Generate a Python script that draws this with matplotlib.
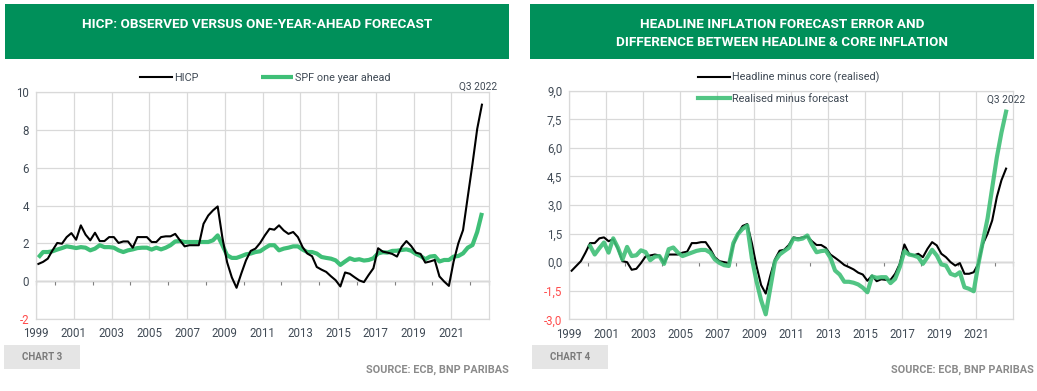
import numpy as np
import matplotlib.pyplot as plt
from matplotlib.patches import Rectangle

plt.rcParams['font.family'] = ['Roboto', 'DejaVu Sans']

W, H = 1037, 391
GREEN_HDR = '#00905a'
GREEN_LINE = '#3fbf77'
GRID = '#d9d9d9'
TXT = '#404a55'
NEG = '#ff4b4b'

# quarterly data, 1999 Q1 .. 2022 Q3
hicp = [0.91, 1.02, 1.19, 1.63, 2.02, 1.98, 2.33, 2.54, 2.19, 2.95, 2.46, 2.16,
        2.56, 2.12, 2.12, 2.33, 2.33, 2.02, 2.10, 2.10, 1.77, 2.33, 2.33, 2.33,
        2.07, 2.07, 2.33, 2.37, 2.37, 2.50, 2.16, 1.84, 1.90, 1.90, 1.90, 3.03,
        3.47, 3.74, 3.95, 2.30, 1.00, 0.20, -0.35, 0.40, 1.10, 1.60, 1.72, 2.02,
        2.42, 2.77, 2.72, 2.95, 2.68, 2.50, 2.60, 2.33, 1.80, 1.46, 1.32, 0.75,
        0.61, 0.49, 0.26, 0.05, -0.28, 0.46, 0.39, 0.21, 0.04, -0.05, 0.33, 0.68,
        1.74, 1.56, 1.51, 1.44, 1.30, 1.82, 2.12, 1.86, 1.51, 1.44, 0.98, 1.04,
        1.12, 0.25, -0.02, -0.25, 1.04, 2.00, 2.70, 4.46, 6.20, 8.05, 9.33]
spf = [1.25, 1.54, 1.54, 1.58, 1.67, 1.75, 1.84, 1.80, 1.75, 1.80, 1.77, 1.63,
       1.72, 1.90, 1.80, 1.80, 1.77, 1.63, 1.54, 1.63, 1.68, 1.75, 1.77, 1.77,
       1.67, 1.77, 1.68, 1.77, 1.90, 2.10, 2.12, 2.07, 2.07, 2.07, 2.07, 2.07,
       2.07, 2.16, 2.42, 1.90, 1.37, 1.23, 1.23, 1.32, 1.42, 1.46, 1.54, 1.58,
       1.75, 1.90, 1.90, 1.63, 1.72, 1.77, 1.84, 1.84, 1.67, 1.54, 1.54, 1.46,
       1.28, 1.23, 1.19, 1.10, 0.86, 1.04, 1.21, 1.12, 1.16, 1.09, 1.12, 1.21,
       1.47, 1.53, 1.51, 1.60, 1.61, 1.65, 1.68, 1.61, 1.44, 1.33, 1.16, 1.30,
       1.33, 1.04, 1.12, 1.12, 1.30, 1.33, 1.47, 1.77, 1.91, 2.60, 3.61]
headline_minus_core = [
    -0.45, -0.20, 0.05, 0.50, 1.00, 1.00, 1.25, 1.30, 1.10, 1.20, 0.70, 0.05,
    0.00, -0.40, -0.35, -0.05, 0.30, 0.35, 0.40, 0.35, -0.05, 0.40, 0.40, 0.40,
    0.50, 0.55, 1.00, 1.00, 1.05, 1.05, 0.70, 0.25, 0.05, 0.00, -0.05, 0.90,
    1.50, 1.90, 2.00, 1.00, -0.20, -1.20, -1.65, -0.70, 0.15, 0.60, 0.65, 0.90,
    1.30, 1.25, 1.30, 1.35, 1.10, 0.90, 0.90, 0.75, 0.40, 0.23, 0.05, -0.15,
    -0.26, -0.38, -0.55, -0.65, -0.98, -0.70, -1.00, -0.90, -0.93, -0.93, -0.61, -0.09,
    0.93, 0.44, 0.35, 0.44, 0.26, 0.70, 1.05, 0.88, 0.44, 0.26, 0.00, -0.18,
    -0.05, -0.61, -0.61, -0.53, -0.09, 0.96, 1.49, 2.19, 3.42, 4.30, 4.91]
# starts in 2000 Q1
realised_minus_forecast = [np.nan] * 4 + [
    0.85, 0.40, 0.73, 1.03, 0.50, 1.25, 0.77, 0.14, 0.80, 0.32, 0.36, 0.62,
    0.53, 0.10, 0.29, 0.32, -0.09, 0.68, 0.77, 0.50, 0.32, 0.41, 0.50, 0.59,
    0.64, 0.64, 0.50, 0.14, -0.04, -0.16, -0.20, 1.00, 1.48, 1.75, 1.92, 0.20,
    -1.00, -2.00, -2.74, -1.35, 0.05, 0.40, 0.58, 0.75, 1.24, 1.19, 1.24, 1.40,
    0.92, 0.52, 0.58, 0.61, 0.23, -0.44, -0.65, -1.03, -1.03, -1.08, -1.17, -1.34,
    -1.58, -0.75, -0.82, -0.79, -0.79, -1.10, -0.88, -0.26, 0.58, 0.40, 0.35, 0.26,
    -0.09, 0.26, 0.65, 0.35, -0.12, -0.18, -0.61, -0.70, -0.53, -1.32, -1.40, -1.53,
    -0.10, 1.10, 2.30, 3.90, 5.50, 6.80, 7.90]

x = 1999.125 + 0.25 * np.arange(len(hicp))
year_labels = list(range(1999, 2022, 2))


def fx(px):
    return px / W


def fy(py):
    return 1 - py / H


fig = plt.figure(figsize=(W / 100, H / 100), dpi=100)


def style_axes(ax, ylim, yticks, ylabels):
    ax.set_xlim(1999, 2023)
    ax.set_ylim(*ylim)
    ax.set_xticks(year_labels)
    ax.set_xticklabels([str(y) for y in year_labels])
    ax.set_yticks(yticks)
    ax.set_yticklabels(ylabels)
    ax.grid(True, color=GRID, lw=0.9)
    ax.set_axisbelow(True)
    for s in ax.spines.values():
        s.set_color(GRID)
        s.set_linewidth(0.9)
    ax.tick_params(length=0, labelsize=8.3, colors=TXT)
    ax.tick_params(axis='x', pad=6)
    ax.tick_params(axis='y', pad=5)
    for lab, v in zip(ax.get_yticklabels(), yticks):
        if v < 0:
            lab.set_color(NEG)
    # zero line with yearly ticks
    zero = (0 - ylim[0]) / (ylim[1] - ylim[0])
    sec = ax.secondary_xaxis(zero)
    sec.set_alignment('bottom')
    sec.set_xticks(range(1999, 2024))
    sec.tick_params(length=3, width=0.8, color='#7f7f7f', labelbottom=False,
                    labeltop=False, direction='out')
    sec.spines['bottom'].set_color('#7f7f7f')
    sec.spines['bottom'].set_linewidth(0.9)


def header(x0, x1, lines):
    fig.add_artist(Rectangle((fx(x0), fy(59)), fx(x1 - x0), 55 / H,
                             transform=fig.transFigure, color=GREEN_HDR, lw=0))
    for i, t in enumerate(lines):
        fig.text(fx((x0 + x1) / 2), fy(24 + 19 * i), t, color='white',
                 fontsize=9.7, fontweight='bold', ha='center', va='center')


def footer(x0, x1, chart):
    fig.add_artist(Rectangle((fx(x0), fy(369)), fx(76), 24 / H,
                             transform=fig.transFigure, color='#e5e5e5', lw=0))
    fig.text(fx(x0 + 38), fy(357), chart, color='#7a7a7a', fontsize=7,
             fontweight='bold', ha='center', va='center')
    fig.text(fx(x1), fy(370), 'SOURCE: ECB, BNP PARIBAS', color='#8a8a8a',
             fontsize=7.8, fontweight='bold', ha='right', va='center')


# ---- chart 3
ax1 = fig.add_axes([fx(36), fy(319), fx(489 - 36), 227 / H])
ax1.plot(x, spf, color=GREEN_LINE, lw=3.0, label='SPF one year ahead',
         solid_capstyle='butt')
ax1.plot(x, hicp, color='black', lw=1.5, label='HICP')
style_axes(ax1, (-2, 10), list(range(-2, 11, 2)), [str(v) for v in range(-2, 11, 2)])
ax1.annotate('Q3 2022', (x[-1], hicp[-1]), xytext=(-3, 9), textcoords='offset points',
             ha='center', va='bottom', fontsize=7.3, color=TXT)
h, l = ax1.get_legend_handles_labels()
fig.legend(h[::-1], l[::-1], loc='center', bbox_to_anchor=(fx(265), fy(78)), ncol=2,
           frameon=False, fontsize=7.8, handlelength=3.0, handletextpad=0.15,
           columnspacing=5.8, labelcolor=TXT)
header(5, 509, ['HICP: OBSERVED VERSUS ONE-YEAR-AHEAD FORECAST'])
footer(4, 509, 'CHART 3')

# ---- chart 4
yt = [-3.0, -1.5, 0.0, 1.5, 3.0, 4.5, 6.0, 7.5, 9.0]
ax2 = fig.add_axes([fx(569.3), fy(319.3), fx(1013 - 569.3), 228.6 / H])
ax2.plot(x, headline_minus_core, color='black', lw=1.5,
         label='Headline minus core (realised)')
ax2.plot(x, realised_minus_forecast, color=GREEN_LINE, lw=3.0, alpha=0.9,
         label='Realised minus forecast')
style_axes(ax2, (-3, 9), yt, [f'{v:.1f}'.replace('.', ',') for v in yt])
ax2.annotate('Q3 2022', (x[-1], realised_minus_forecast[-1]), xytext=(0, 5),
             textcoords='offset points', ha='center', va='bottom', fontsize=7.3,
             color=TXT)
h2, l2 = ax2.get_legend_handles_labels()
fig.legend(h2, l2, loc='upper left', bbox_to_anchor=(fx(688), fy(62)), ncol=1,
           frameon=False, fontsize=7.8, handlelength=3.0, handletextpad=0.15,
           labelspacing=1.0, labelcolor=TXT)
header(530, 1034, ['HEADLINE INFLATION FORECAST ERROR AND',
                   'DIFFERENCE BETWEEN HEADLINE & CORE INFLATION'])
footer(532, 1034, 'CHART 4')

fig.savefig('out.png', dpi=100)
